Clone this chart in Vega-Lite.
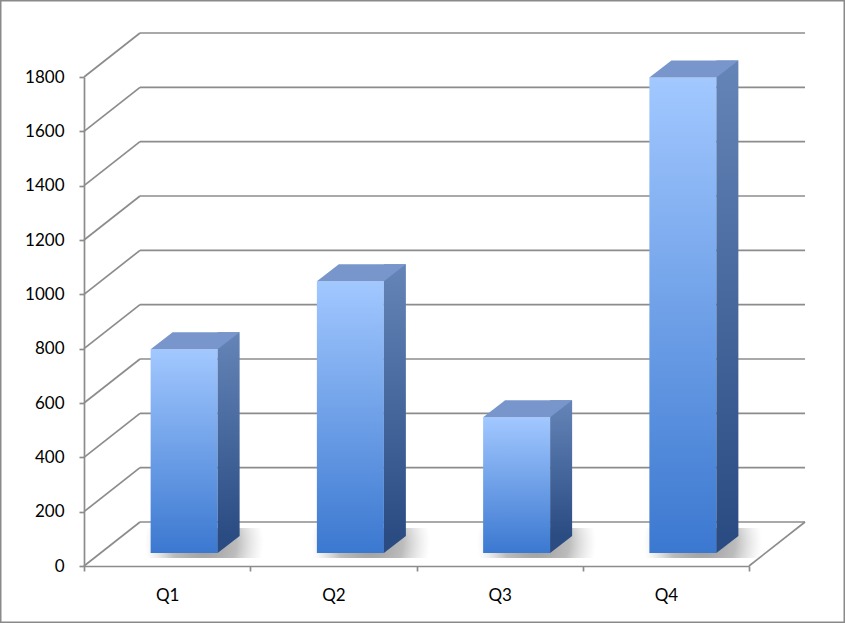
{
  "$schema": "https://vega.github.io/schema/vega-lite/v6.json",
  "width": 845,
  "height": 623,
  "padding": 0,
  "autosize": {"type": "none"},
  "background": "white",
  "datasets": {
    "sales": [
      {"quarter": "Q1", "value": 750},
      {"quarter": "Q2", "value": 1000},
      {"quarter": "Q3", "value": 500},
      {"quarter": "Q4", "value": 1750}
    ],
    "ticks": [
      {"tick": 0}, {"tick": 200}, {"tick": 400}, {"tick": 600}, {"tick": 800},
      {"tick": 1000}, {"tick": 1200}, {"tick": 1400}, {"tick": 1600}, {"tick": 1800}
    ]
  },
  "layer": [
    {
      "data": {"name": "ticks"},
      "mark": {"type": "rule", "color": "#8c8c8c", "strokeWidth": 1.7, "xOffset": 56, "x2Offset": 56, "yOffset": -44},
      "encoding": {
        "x": {
          "datum": "Q1", "type": "nominal", "bandPosition": 0, "title": null,
          "scale": {"domain": ["Q1", "Q2", "Q3", "Q4"], "range": [84, 749], "paddingInner": 0, "paddingOuter": 0},
          "axis": {
            "orient": "bottom", "offset": -57, "tickBand": "extent", "tickSize": 5,
            "labelPadding": 16, "labelAngle": 0, "grid": false, "title": null
          }
        },
        "x2": {"datum": "Q4", "bandPosition": 1},
        "y": {
          "field": "tick", "type": "quantitative", "title": null,
          "scale": {"domain": [0, 1800], "range": [566, 77], "nice": false, "zero": false},
          "axis": {
            "orient": "left", "offset": -84, "values": [0, 200, 400, 600, 800, 1000, 1200, 1400, 1600, 1800],
            "format": "d", "tickSize": 5, "labelPadding": 15, "grid": false, "title": null
          }
        }
      }
    },
    {
      "data": {"name": "ticks"},
      "mark": {"type": "rule", "color": "#8c8c8c", "strokeWidth": 1.7, "x2Offset": 56, "y2Offset": -44},
      "encoding": {
        "x": {"datum": "Q1", "type": "nominal", "bandPosition": 0, "title": null},
        "x2": {"datum": "Q1", "bandPosition": 0},
        "y": {"field": "tick", "type": "quantitative", "title": null},
        "y2": {"field": "tick"}
      }
    },
    {
      "data": {"name": "sales"},
      "mark": {
        "type": "bar", "width": 119, "xOffset": 37, "yOffset": -38, "y2Offset": -8,
        "color": {
          "gradient": "radial", "x1": 0.5, "y1": 0.5, "x2": 0.5, "y2": 0.5, "r1": 0, "r2": 0.5,
          "stops": [
            {"offset": 0, "color": "rgba(140,140,140,0.9)"},
            {"offset": 0.55, "color": "rgba(160,160,160,0.7)"},
            {"offset": 1, "color": "rgba(200,200,200,0)"}
          ]
        }
      },
      "encoding": {
        "x": {"field": "quarter", "type": "nominal", "title": null},
        "y": {"datum": 0, "type": "quantitative"},
        "y2": {"datum": 0}
      }
    },
    {
      "data": {"values": [{"edge": "right"}]},
      "mark": {"type": "rule", "color": "#8c8c8c", "strokeWidth": 1.7, "x2Offset": 56, "y2Offset": -44},
      "encoding": {
        "x": {"datum": "Q4", "type": "nominal", "bandPosition": 1},
        "x2": {"datum": "Q4", "bandPosition": 1},
        "y": {"datum": 0, "type": "quantitative"},
        "y2": {"datum": 0}
      }
    },
    {
      "data": {"name": "sales"},
      "mark": {
        "type": "bar", "width": 67, "xOffset": 17, "yOffset": -13, "y2Offset": -13,
        "color": {
          "gradient": "linear", "x1": 0, "y1": 0, "x2": 0, "y2": 1,
          "stops": [
            {"offset": 0, "color": "#a2c8ff"},
            {"offset": 1, "color": "#3b78d0"}
          ]
        }
      },
      "encoding": {
        "x": {"field": "quarter", "type": "nominal", "title": null},
        "y": {"field": "value", "type": "quantitative", "title": null},
        "y2": {"datum": 0}
      }
    },
    {
      "data": {"name": "sales"},
      "mark": {
        "type": "bar", "width": 22, "xOffset": 61.5, "yOffset": -30, "y2Offset": -30,
        "color": {
          "gradient": "linear", "x1": 0, "y1": 0, "x2": 0, "y2": 1,
          "stops": [
            {"offset": 0, "color": "#6585b8"},
            {"offset": 1, "color": "#2a4c83"}
          ]
        }
      },
      "encoding": {
        "x": {"field": "quarter", "type": "nominal", "title": null},
        "y": {"field": "value", "type": "quantitative", "title": null},
        "y2": {"datum": 0}
      }
    },
    {
      "data": {"name": "sales"},
      "mark": {
        "type": "point", "filled": true, "opacity": 1, "size": 4, "color": "#2a4c83",
        "shape": "M50.5,-13L72.5,-30L50.5,-30Z"
      },
      "encoding": {
        "x": {"field": "quarter", "type": "nominal", "title": null},
        "y": {"datum": 0, "type": "quantitative"}
      }
    },
    {
      "data": {"name": "sales"},
      "mark": {
        "type": "point", "filled": true, "opacity": 1, "size": 4, "color": "#7896cb",
        "shape": "M-16.5,-13L50.5,-13L72.5,-30L5.5,-30Z"
      },
      "encoding": {
        "x": {"field": "quarter", "type": "nominal", "title": null},
        "y": {"field": "value", "type": "quantitative", "title": null}
      }
    }
  ],
  "config": {
    "view": {"stroke": "#8a8a8a", "strokeWidth": 3},
    "axis": {
      "domainColor": "#8c8c8c",
      "domainWidth": 1.7,
      "tickColor": "#8c8c8c",
      "tickWidth": 1.7,
      "labelFont": "Lato",
      "labelFontSize": 17,
      "labelColor": "#000000"
    }
  }
}
